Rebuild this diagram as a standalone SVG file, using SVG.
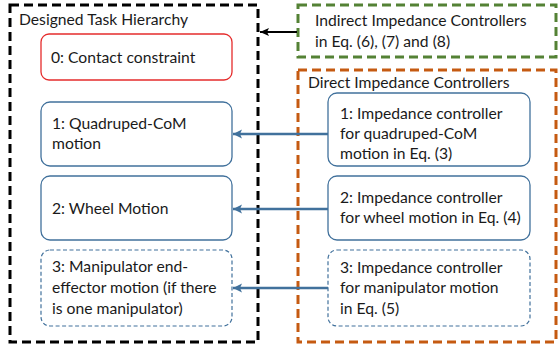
<svg xmlns="http://www.w3.org/2000/svg" width="558" height="347" viewBox="0 0 558 347">
<style>
text{font-family:Lato,"Open Sans","Liberation Sans",sans-serif;font-size:15.7px;fill:#1a1a1a}
.node{fill:#fff;stroke:#41719c;stroke-width:1.3}
.dnode{fill:#fff;stroke:#41719c;stroke-width:1.2;stroke-dasharray:4 2.5}
.blk{fill:none;stroke:#000;stroke-width:3;stroke-dasharray:9 5}
.grn{fill:none;stroke:#548235;stroke-width:3;stroke-dasharray:9 5}
.org{fill:none;stroke:#c55a11;stroke-width:3;stroke-dasharray:9 5}
.barrow{stroke:#41719c;stroke-width:2.5;fill:none}
</style>
<defs>
<marker id="ah" markerWidth="10" markerHeight="10" refX="9" refY="4.5" orient="auto" markerUnits="userSpaceOnUse"><path d="M0,0 L9,4.5 L0,9 L2,4.5 Z" fill="#41719c"/></marker>
<marker id="ahk" markerWidth="10" markerHeight="10" refX="9" refY="4" orient="auto" markerUnits="userSpaceOnUse"><path d="M0,0 L9,4 L0,8 L2,4 Z" fill="#000"/></marker>
</defs>
<g id="hierarchy">
<rect class="blk" x="10" y="5" width="248" height="337"/>
<text x="19" y="25">Designed Task Hierarchy</text>
</g>
<g id="indirect">
<rect class="grn" x="298" y="5" width="258" height="52"/>
<text x="315" y="26">Indirect Impedance Controllers</text>
<text x="315" y="47">in Eq. (6), (7) and (8)</text>
</g>
<g id="direct">
<rect class="org" x="298" y="70" width="258" height="272"/>
<text x="308" y="88">Direct Impedance Controllers</text>
</g>
<g id="task0">
<rect x="41" y="34" width="191" height="46" rx="8" fill="#fff" stroke="#e52c2c" stroke-width="1.3"/>
<text x="51" y="63">0: Contact constraint</text>
</g>
<g id="task1">
<rect class="node" x="41" y="102" width="191" height="64" rx="9"/>
<text x="52" y="129">1: Quadruped-CoM</text>
<text x="52" y="149">motion</text>
</g>
<g id="task2">
<rect class="node" x="41" y="176" width="191" height="64" rx="9"/>
<text x="52" y="214">2: Wheel Motion</text>
</g>
<g id="task3">
<rect class="dnode" x="41" y="250" width="191" height="76" rx="9"/>
<text x="52" y="272">3: Manipulator end-</text>
<text x="52" y="293">effector motion (if there</text>
<text x="52" y="314">is one manipulator)</text>
</g>
<g id="ctrl1">
<rect class="node" x="328" y="93" width="202" height="73" rx="9"/>
<text x="340" y="119">1: Impedance controller</text>
<text x="340" y="139">for quadruped-CoM</text>
<text x="340" y="159">motion in Eq. (3)</text>
</g>
<g id="ctrl2">
<rect class="node" x="328" y="176" width="202" height="64" rx="9"/>
<text x="340" y="203">2: Impedance controller</text>
<text x="340" y="223">for wheel motion in Eq. (4)</text>
</g>
<g id="ctrl3">
<rect class="dnode" x="328" y="250" width="202" height="76" rx="9"/>
<text x="340" y="273">3: Impedance controller</text>
<text x="340" y="293">for manipulator motion</text>
<text x="340" y="314">in Eq. (5)</text>
</g>
<g id="connectors">
<line x1="297" y1="32" x2="260" y2="32" stroke="#000" stroke-width="2" marker-end="url(#ahk)"/>
<line class="barrow" x1="328" y1="134" x2="233" y2="134" marker-end="url(#ah)"/>
<line class="barrow" x1="328" y1="209" x2="233" y2="209" marker-end="url(#ah)"/>
<line class="barrow" x1="328" y1="288" x2="233" y2="288" marker-end="url(#ah)"/>
</g>
</svg>
